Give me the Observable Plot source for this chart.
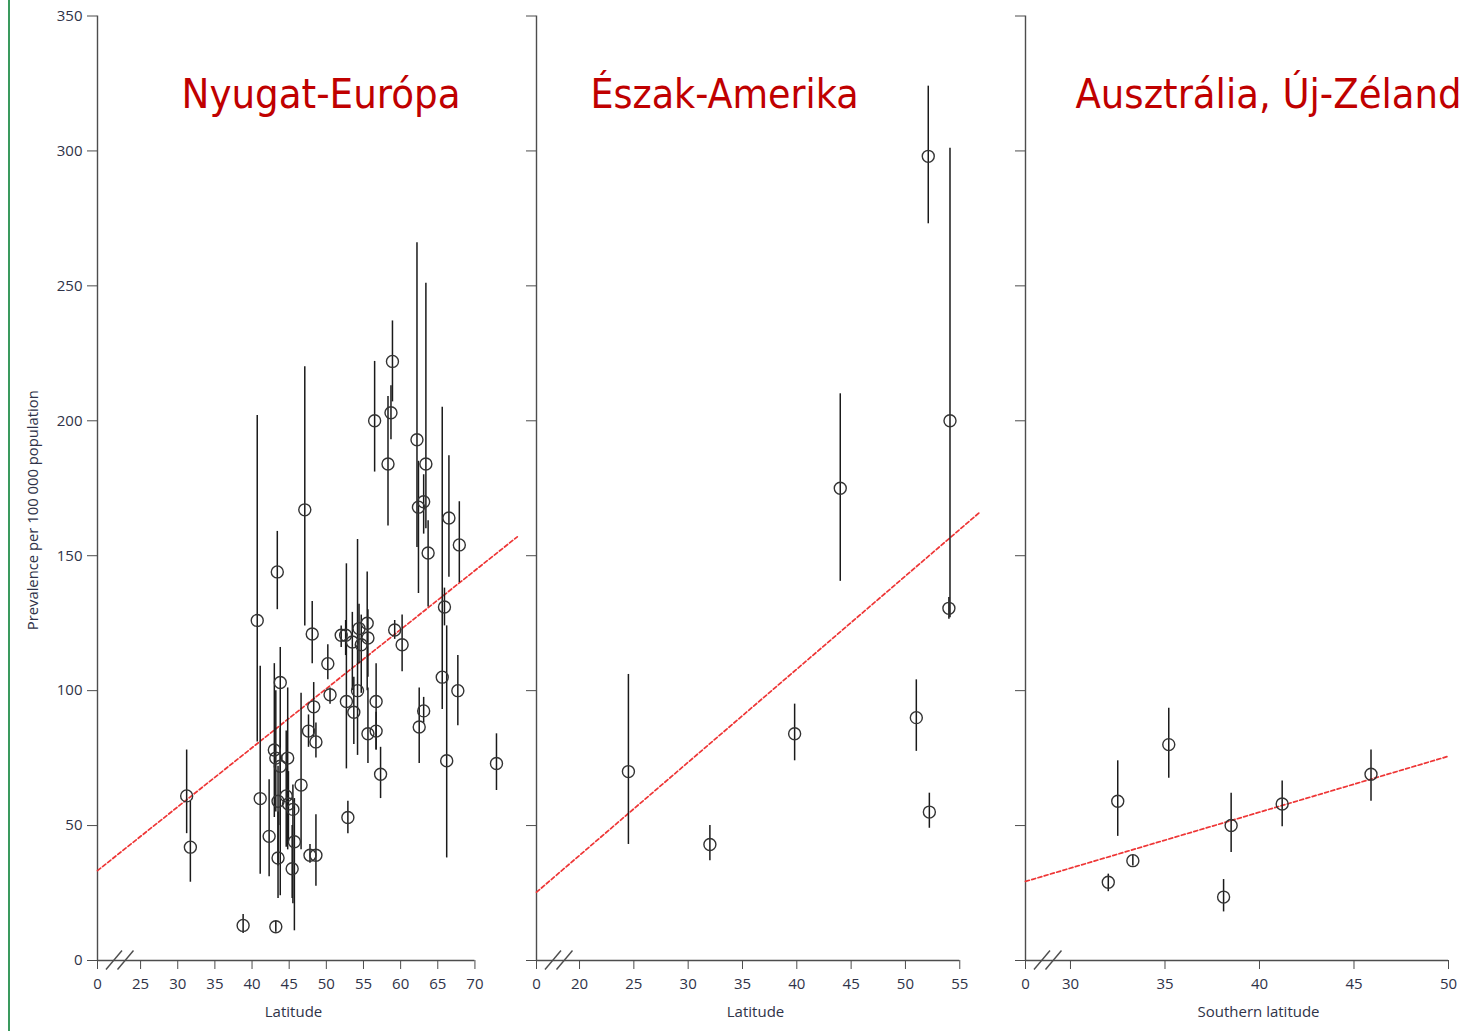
<!DOCTYPE html>
<html><head><meta charset="utf-8">
<script src="https://cdn.jsdelivr.net/npm/d3@7"></script>
<script src="https://cdn.jsdelivr.net/npm/@observablehq/plot@0.6"></script>
<style>
body{margin:0;background:#fff;}
#wrap{position:relative;width:1472px;height:1031px;overflow:hidden;background:#fff;}
.panel{position:absolute;top:0;}
#green{position:absolute;left:8px;top:0;width:1.5px;height:1031px;background:#3a9a5e;}
</style></head><body>
<div id="wrap"><div id="green"></div></div>
<script>
// ---- data: [latitude, prevalence, lower CI, upper CI] ----
const europeRows = [
  [31.2,61,47,78],[31.7,42,29,59],[38.8,13,10,17],[40.7,126,81,202],[41.1,60,32,109],
  [42.3,46,31,67],[43.0,78,53,110],[43.2,75,55,100],[43.2,12.5,10.5,14.5],[43.4,144,130,159],
  [43.5,59,35,72],[43.5,38,23,55],[43.8,72,50,86],[43.8,103,24,116],[44.6,61,42,85],
  [44.8,75,41,101],[44.9,58,44,70],[45.4,34,23,50],[45.5,56,21,65],[45.7,44,11,60],
  [46.6,65,41,99],[47.1,167,124,220],[47.6,85,79,91],[47.8,39,36,43],[48.1,121,110,133],
  [48.3,94,83,103],[48.6,81,75,88],[48.6,39,27.5,54],[50.2,110,104,117],[50.5,98.5,95,101],
  [52.0,120.5,116,124],[52.6,120.5,113,126],[52.7,96,71,147],[52.9,53,47,59],[53.5,118,100,129],
  [53.7,92,80,105],[54.2,100,76,156],[54.4,123,110,132],[54.7,117,99,128],[55.5,125,100,144],
  [55.6,119.5,105,130],[55.6,84,73,101],[56.5,200,181,222],[56.7,96,78,110],[56.7,85,78,92],
  [57.3,69,60,79],[58.3,184,161,209],[58.7,203,193,213],[58.9,222,207,237],[59.2,122.5,119,126],
  [60.2,117,107,128],[62.2,193,153,266],[62.4,168,136,185],[62.5,86.5,73,101],[63.1,170,158,180],
  [63.1,92.5,88,97.5],[63.4,184,160,251],[63.7,151,131,163],[65.6,105,93,205],[65.9,131,124,138],
  [66.2,74,38,124],[66.5,164,142,187],[67.7,100,87,113],[67.9,154,140,170],[72.9,73,63,84]
];
const northAmericaRows = [
  [24.5,70,43,106],[32.0,43,37,50],[39.8,84,74,95],[44.0,175,140.5,210],[51.0,90,77.5,104],
  [52.1,298,273,324],[52.2,55,49,62],[54.0,130.5,126.5,134.5],[54.1,200,127,301]
];
const australiaRows = [
  [32.0,29,25.5,32],[32.5,59,46,74],[33.3,37,35,39],[35.2,80,67.5,93.5],
  [38.1,23.5,18,30],[38.5,50,40,62],[41.2,58,49.6,66.5],[45.9,69,59,78]
];
// fitted trend lines: [latitude, prevalence]
const europeTrend = [[19.2,33.3],[75.7,157]];
const northAmericaTrend = [[16.04,25.3],[56.9,166.3]];
const australiaTrend = [[27.62,29.3],[50,75.7]];
// tick values
const europeTicks = [25,30,35,40,45,50,55,60,65,70];
const northAmericaTicks = [20,25,30,35,40,45,50,55];
const australiaTicks = [30,35,40,45,50];
const yTicks = [0,50,100,150,200,250,300,350];
// texts
const titles = ["Nyugat-Európa","Észak-Amerika","Ausztrália, Új-Zéland"];
const xLabels = ["Latitude","Latitude","Southern latitude"];
const yLabel = "Prevalence per 100 000 population";

const toObj = r => ({lat:r[0], prev:r[1], lo:r[2], hi:r[3]});
const toTrend = r => ({lat:r[0], prev:r[1]});

const AXIS = "#4d4d4d", TXT = "#2f3348";

function panel(cfg){
  const rows = cfg.rows.map(toObj), trend = cfg.trend.map(toTrend);
  const origin = cfg.origin, last = cfg.ticks[cfg.ticks.length-1];
  const breakMark = (...args) => {
    const s = args.find(a => a && typeof a.x === "function" && typeof a.y === "function");
    const g = d3.create("svg:g");
    const x0 = s.x(origin), y0 = s.y(0);
    for (const off of [17, 28.5]) {
      g.append("line").attr("x1", x0+off-8).attr("y1", y0+9.5)
        .attr("x2", x0+off+8).attr("y2", y0-9.5)
        .attr("stroke", AXIS).attr("stroke-width", 1.4);
    }
    return g.node();
  };
  const marks = [
    Plot.ruleY([0], {x1: origin, x2: last, stroke: AXIS, strokeWidth: 1.4}),
    Plot.ruleX([origin], {y1: 0, y2: 350, stroke: AXIS, strokeWidth: 1.4}),
    Plot.axisX([origin, ...cfg.ticks], {tickSize: 9, tickPadding: 9, stroke: AXIS, fill: TXT,
      tickFormat: d => d === origin ? "0" : String(d), label: null}),
    Plot.axisY(yTicks, {tickSize: 10, tickPadding: 5, stroke: AXIS, fill: TXT,
      tickFormat: cfg.yLabels ? (d => String(d)) : (() => ""), label: null}),
    breakMark,
    Plot.line(trend, {x: "lat", y: "prev", stroke: "#ee3535", strokeWidth: 1.7, strokeDasharray: "4,2.5"}),
    Plot.ruleX(rows, {x: "lat", y1: "lo", y2: "hi", stroke: "#1a1a1a", strokeWidth: 1.5}),
    Plot.dot(rows, {x: "lat", y: "prev", r: 6, stroke: "#333", strokeWidth: 1.4, fill: "none"}),
    Plot.text([cfg.title], {text: d => d, frameAnchor: "top", lineAnchor: "top", dx: cfg.titleDx, dy: 63,
      fontSize: 41, fill: "#c00000", fontFamily: "'DejaVu Sans Condensed', 'DejaVu Sans', sans-serif", className: "ptitle"}),
    Plot.text([cfg.xLabel], {text: d => d, frameAnchor: "bottom", lineAnchor: "middle", dx: cfg.labelDx, dy: 52,
      fontSize: 15, fill: TXT})
  ];
  if (cfg.yLabels) {
    marks.push(Plot.text([yLabel], {text: d => d, frameAnchor: "left", textAnchor: "middle", rotate: -90, dx: -64, dy: 22,
      fontSize: 14.8, fill: TXT}));
  }
  const p = Plot.plot({
    width: cfg.width, height: 1031,
    marginTop: 15.5, marginBottom: 71, marginLeft: cfg.marginLeft, marginRight: cfg.marginRight,
    x: {domain: [origin, cfg.xMax]}, y: {domain: [0, 350]},
    style: {fontFamily: "'Open Sans', sans-serif", fontSize: "15px", background: "transparent", overflow: "visible"},
    marks
  });
  p.classList.add("panel");
  p.style.left = cfg.left + "px";
  const t = p.querySelector(".ptitle text");
  if (t) { t.setAttribute("textLength", cfg.titleWidth); t.setAttribute("lengthAdjust", "spacingAndGlyphs"); }
  document.getElementById("wrap").appendChild(p);
}

panel({rows: europeRows, trend: europeTrend, ticks: europeTicks, origin: 19.2, xMax: 75.73,
  left: 0, width: 520, marginLeft: 97, marginRight: 3, yLabels: true,
  title: titles[0], titleDx: 13.5, titleWidth: 279, xLabel: xLabels[0], labelDx: -14});
panel({rows: northAmericaRows, trend: northAmericaTrend, ticks: northAmericaTicks, origin: 16.04, xMax: 57,
  left: 520, width: 490, marginLeft: 16, marginRight: 29, yLabels: false,
  title: titles[1], titleDx: -34.5, titleWidth: 268, xLabel: xLabels[1], labelDx: -3.5});
panel({rows: australiaRows, trend: australiaTrend, ticks: australiaTicks, origin: 27.62, xMax: 50,
  left: 1010, width: 462, marginLeft: 15, marginRight: 24, yLabels: false,
  title: titles[2], titleDx: 31.5, titleWidth: 386, xLabel: xLabels[2], labelDx: 21.5});
</script>
</body></html>
